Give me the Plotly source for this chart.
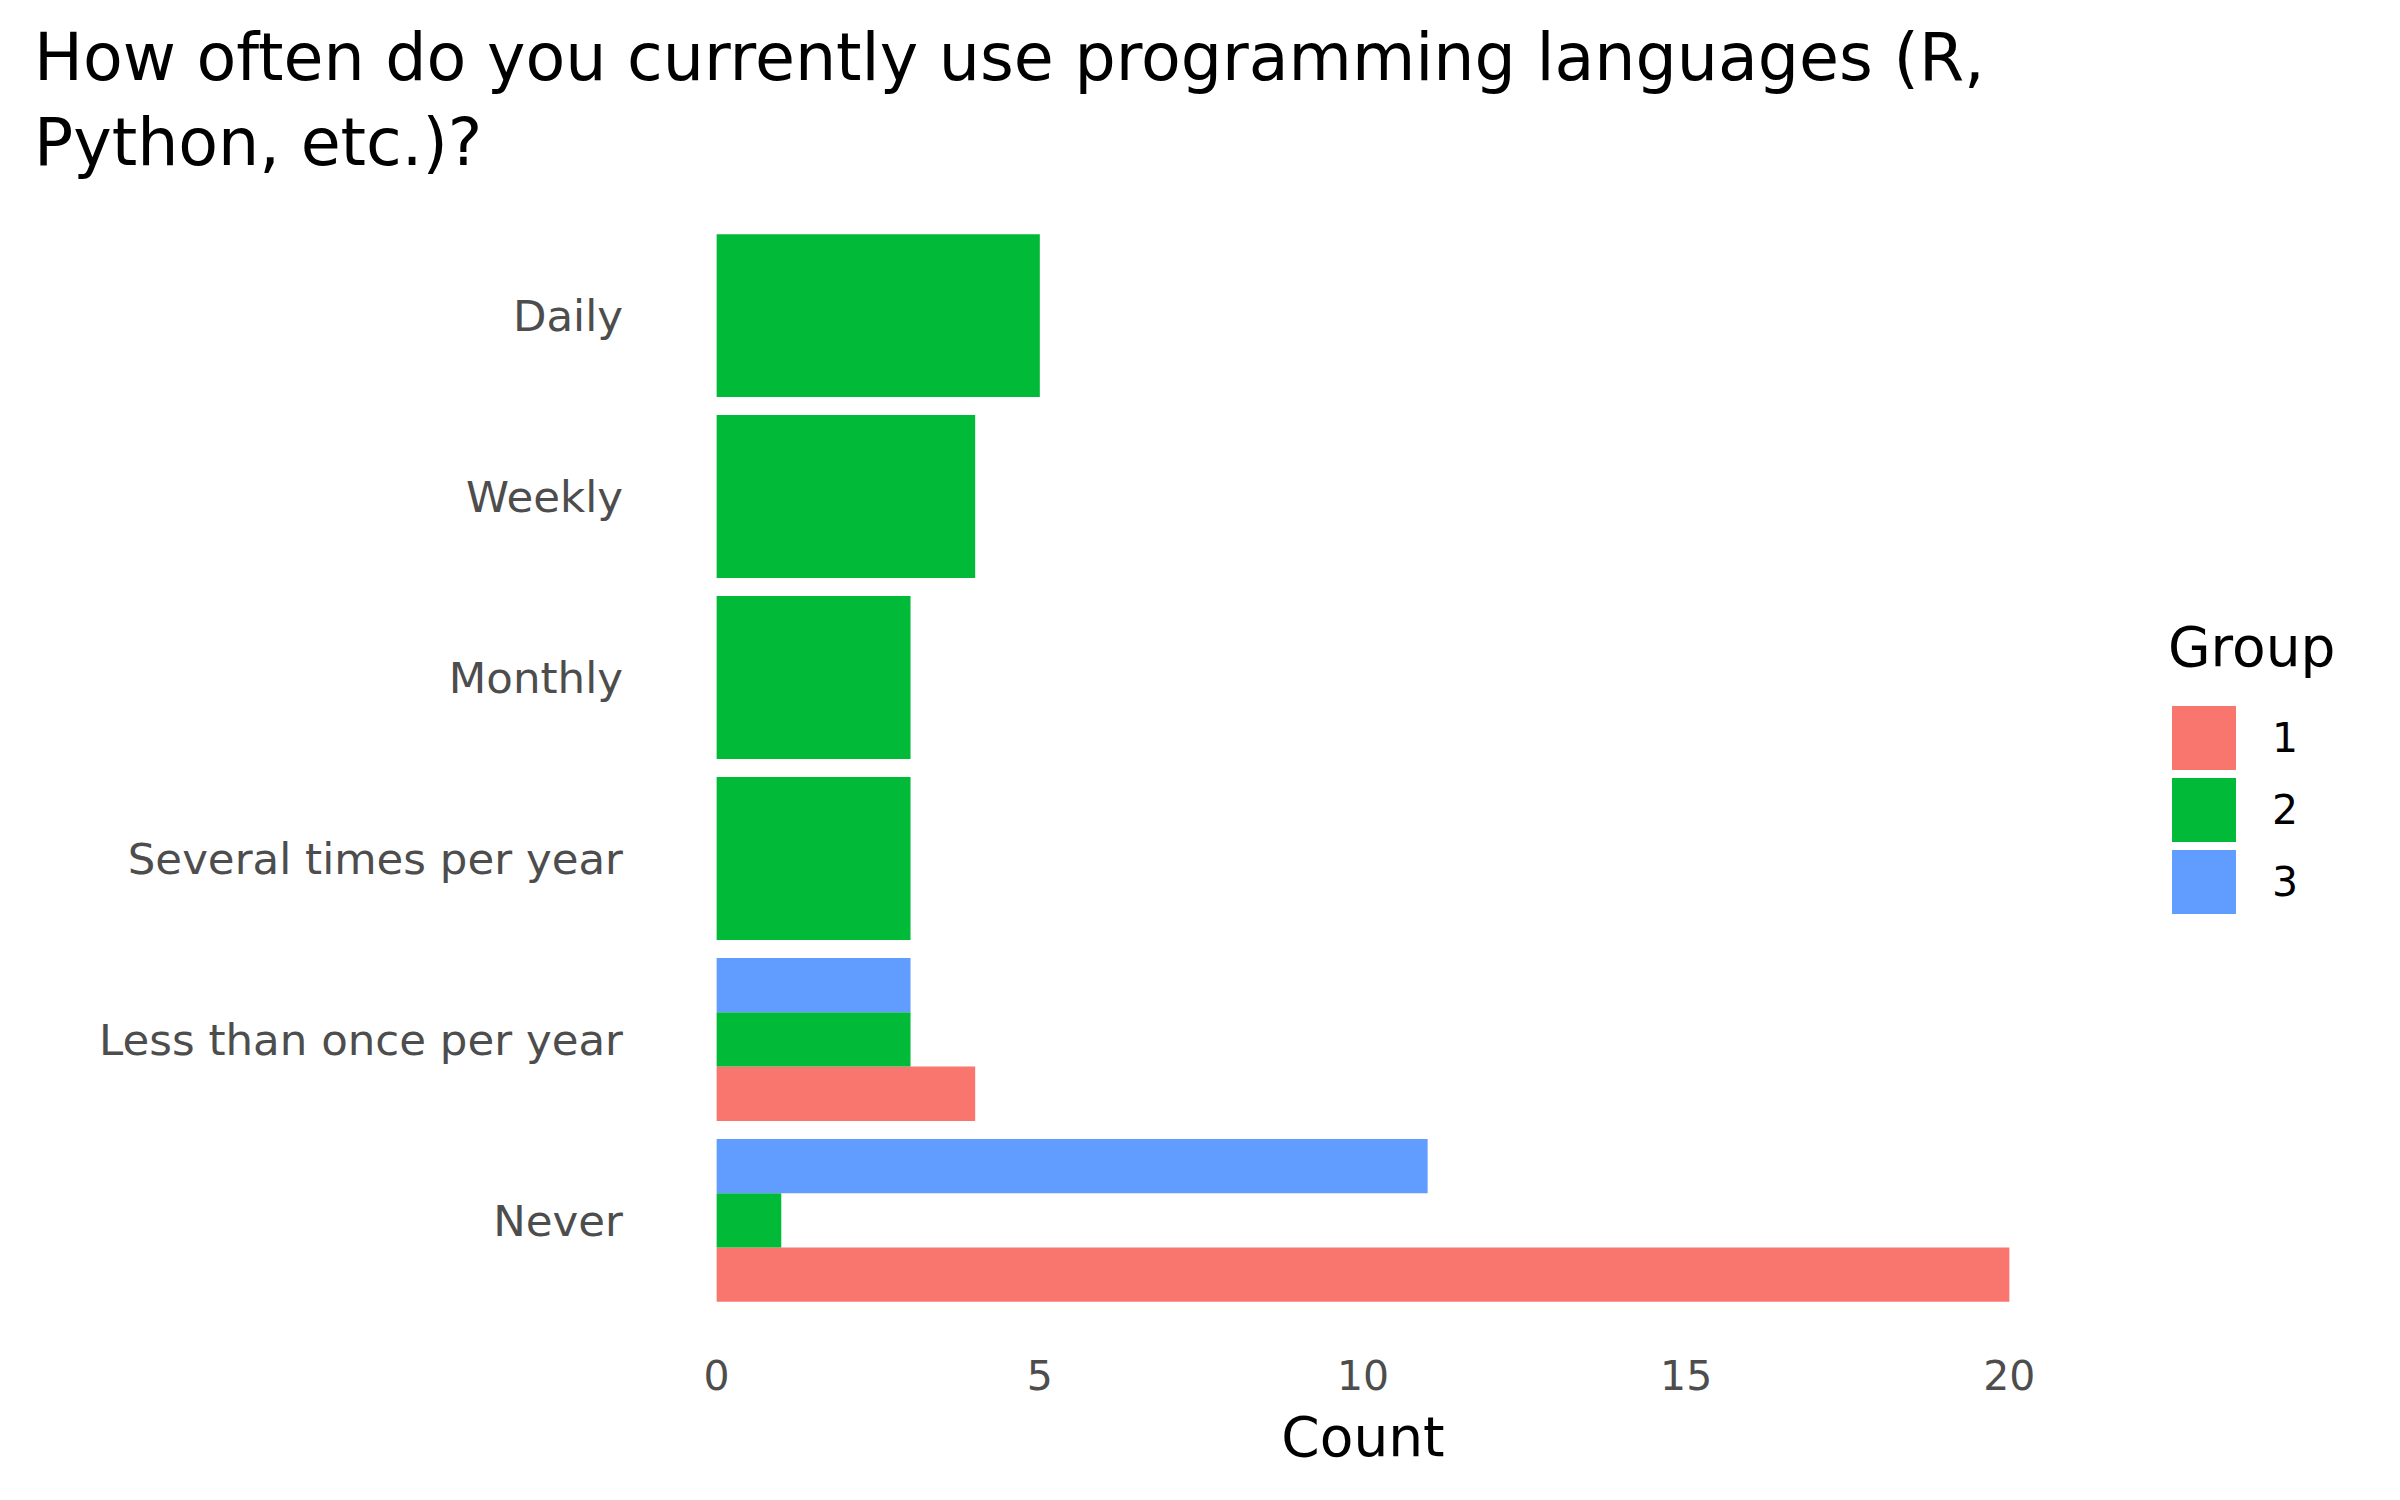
import plotly.graph_objects as go

categories = ["Never", "Less than once per year", "Several times per year", "Monthly", "Weekly", "Daily"]
groups = ["1", "2", "3"]
group1 = {"Never": 20, "Less than once per year": 4}
group2 = {"Never": 1, "Less than once per year": 3, "Several times per year": 3,
          "Monthly": 3, "Weekly": 4, "Daily": 5}
group3 = {"Never": 11, "Less than once per year": 3}
x_ticks = [0, 5, 10, 15, 20]
colors = ["#F8766D", "#00BA38", "#619CFF"]

series = [group1, group2, group3]
FONT = "DejaVu Sans"
TOTAL_W = 0.9

fig = go.Figure()
for gi, (g, data, col) in enumerate(zip(groups, series, colors)):
    ys, xs, ws, offs = [], [], [], []
    for c in categories:
        if c not in data:
            continue
        present = [k for k, d in enumerate(series) if c in d]
        n = len(present)
        idx = present.index(gi)
        w = TOTAL_W / n
        ys.append(c)
        xs.append(data[c])
        ws.append(w)
        offs.append(-TOTAL_W / 2 + idx * w)
    fig.add_trace(go.Bar(y=ys, x=xs, orientation="h", width=ws, offset=offs,
                         marker=dict(color=col, line=dict(width=0)), name=g,
                         showlegend=False))

L, R, T, B = 644, 334, 199, 179
W, H = 2400, 1500
pw, ph = W - L - R, H - T - B
SHIFT = 8

def px_x(x):
    return (x - SHIFT - L) / pw

def px_y(y):
    return (H - B - (y - SHIFT)) / ph

shapes = []
annotations = []
key_x0, key_x1 = 2172, 2236
key_tops = [706, 778, 850]
for i, (g, col) in enumerate(zip(groups, colors)):
    y0 = key_tops[i]
    y1 = y0 + 64
    shapes.append(dict(type="rect", xref="paper", yref="paper",
                       x0=px_x(key_x0), x1=px_x(key_x1), y0=px_y(y1), y1=px_y(y0),
                       fillcolor=col, line=dict(width=0)))
    annotations.append(dict(text=g, xref="paper", yref="paper", x=px_x(2270),
                            y=px_y((y0 + y1) / 2), xanchor="left", yanchor="middle",
                            showarrow=False, font=dict(family=FONT, size=41, color="black")))
annotations.append(dict(text="Group", xref="paper", yref="paper", x=px_x(2166),
                        y=px_y(647), xanchor="left", yanchor="middle", showarrow=False,
                        font=dict(family=FONT, size=55, color="black")))

annotations.append(dict(text="How often do you currently use programming languages (R,<br>Python, etc.)?",
                        xref="paper", yref="paper", x=(24 - L) / pw, y=(H - B - 10) / ph,
                        xanchor="left", yanchor="top", align="left", showarrow=False,
                        font=dict(family=FONT, size=65, color="black")))

fig.update_layout(
    width=W, height=H,
    margin=dict(l=L, r=R, t=T, b=B),
    plot_bgcolor="white", paper_bgcolor="white",
    barmode="overlay",
    xaxis=dict(range=[-1, 21], tickvals=x_ticks, ticktext=[str(v) for v in x_ticks],
               showgrid=False, zeroline=False, showline=False, ticks="",
               tickfont=dict(family=FONT, size=41, color="#4D4D4D"), ticklabelstandoff=19,
               title=dict(text="Count", font=dict(family=FONT, size=55, color="black"), standoff=18)),
    yaxis=dict(categoryorder="array", categoryarray=categories, range=[-0.6, 5.6],
               showgrid=False, zeroline=False, showline=False, ticks="",
               tickfont=dict(family=FONT, size=43.5, color="#4D4D4D"), ticklabelstandoff=28),
    shapes=shapes, annotations=annotations,
)

fig.write_html("out.html")
